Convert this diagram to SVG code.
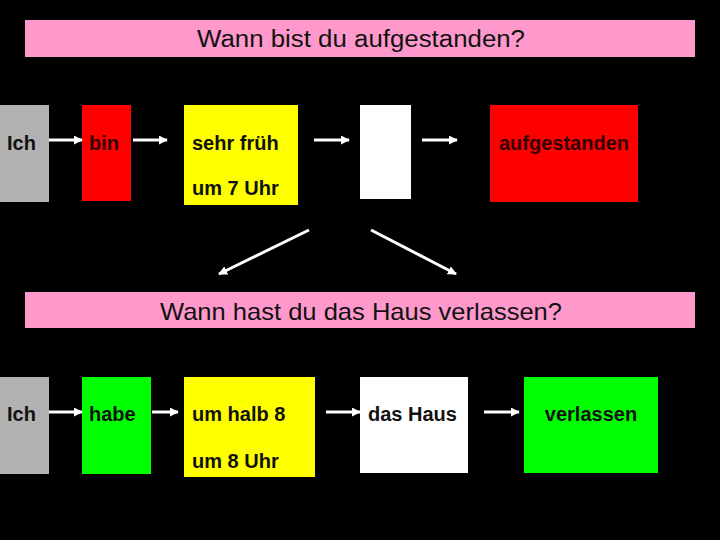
<svg xmlns="http://www.w3.org/2000/svg" width="720" height="540" viewBox="0 0 720 540">
<defs>
<marker id="ah" viewBox="0 0 10 10" refX="9" refY="5" markerWidth="3" markerHeight="3" orient="auto" markerUnits="strokeWidth">
<path d="M0,0 L10,5 L0,10 z" fill="#fff"/>
</marker>
<style>
text{font-family:"Liberation Sans",Arial,sans-serif;fill:#111}
.lbl{font-size:20px;font-weight:bold}
.ttl{text-anchor:middle}
.dark{fill:#300}
.conn line{stroke:#fff;stroke-width:3;marker-end:url(#ah)}
</style>
</defs>
<rect x="0" y="0" width="720" height="540" fill="#000"/>

<g id="title1"><rect x="25" y="20" width="670" height="37" fill="#ff99cc"/>
<text class="ttl" x="361" y="47" font-size="23" textLength="328" lengthAdjust="spacingAndGlyphs">Wann bist du aufgestanden?</text></g>

<g id="ich1"><rect x="0" y="105" width="49" height="97" fill="#b2b2b2"/><text class="lbl" x="7" y="150">Ich</text></g>
<g id="bin"><rect x="82" y="105" width="49" height="96" fill="#ff0000"/><text class="lbl dark" x="89" y="150">bin</text></g>
<g id="zeit1"><rect x="184" y="105" width="114" height="100" fill="#ffff00"/><text class="lbl" x="192" y="150">sehr früh</text><text class="lbl" x="192" y="195">um 7 Uhr</text></g>
<g id="leer"><rect x="360" y="105" width="51" height="94" fill="#fff"/></g>
<g id="aufgestanden"><rect x="490" y="105" width="148" height="97" fill="#ff0000"/><text class="lbl dark" x="564" y="150" text-anchor="middle">aufgestanden</text></g>

<g id="title2"><rect x="25" y="292" width="670" height="36" fill="#ff99cc"/>
<text class="ttl" x="361" y="320" font-size="24" textLength="402" lengthAdjust="spacingAndGlyphs">Wann hast du das Haus verlassen?</text></g>

<g id="ich2"><rect x="0" y="377" width="49" height="97" fill="#b2b2b2"/><text class="lbl" x="7" y="421">Ich</text></g>
<g id="habe"><rect x="82" y="377" width="69" height="97" fill="#00ff00"/><text class="lbl" x="89" y="421">habe</text></g>
<g id="zeit2"><rect x="184" y="377" width="131" height="100" fill="#ffff00"/><text class="lbl" x="192" y="421">um halb 8</text><text class="lbl" x="192" y="468">um 8 Uhr</text></g>
<g id="haus"><rect x="360" y="377" width="108" height="96" fill="#fff"/><text class="lbl" x="368" y="421">das Haus</text></g>
<g id="verlassen"><rect x="524" y="377" width="134" height="96" fill="#00ff00"/><text class="lbl" x="591" y="421" text-anchor="middle">verlassen</text></g>

<g class="conn">
<line x1="49" y1="140" x2="82" y2="140"/>
<line x1="133" y1="140" x2="167" y2="140"/>
<line x1="314" y1="140" x2="349" y2="140"/>
<line x1="422" y1="140" x2="457" y2="140"/>
<line x1="309" y1="230" x2="219" y2="274"/>
<line x1="371" y1="230" x2="456" y2="274"/>
<line x1="49" y1="412" x2="82" y2="412"/>
<line x1="152" y1="412" x2="178" y2="412"/>
<line x1="326" y1="412" x2="360" y2="412"/>
<line x1="484" y1="412" x2="519" y2="412"/>
</g>
</svg>
